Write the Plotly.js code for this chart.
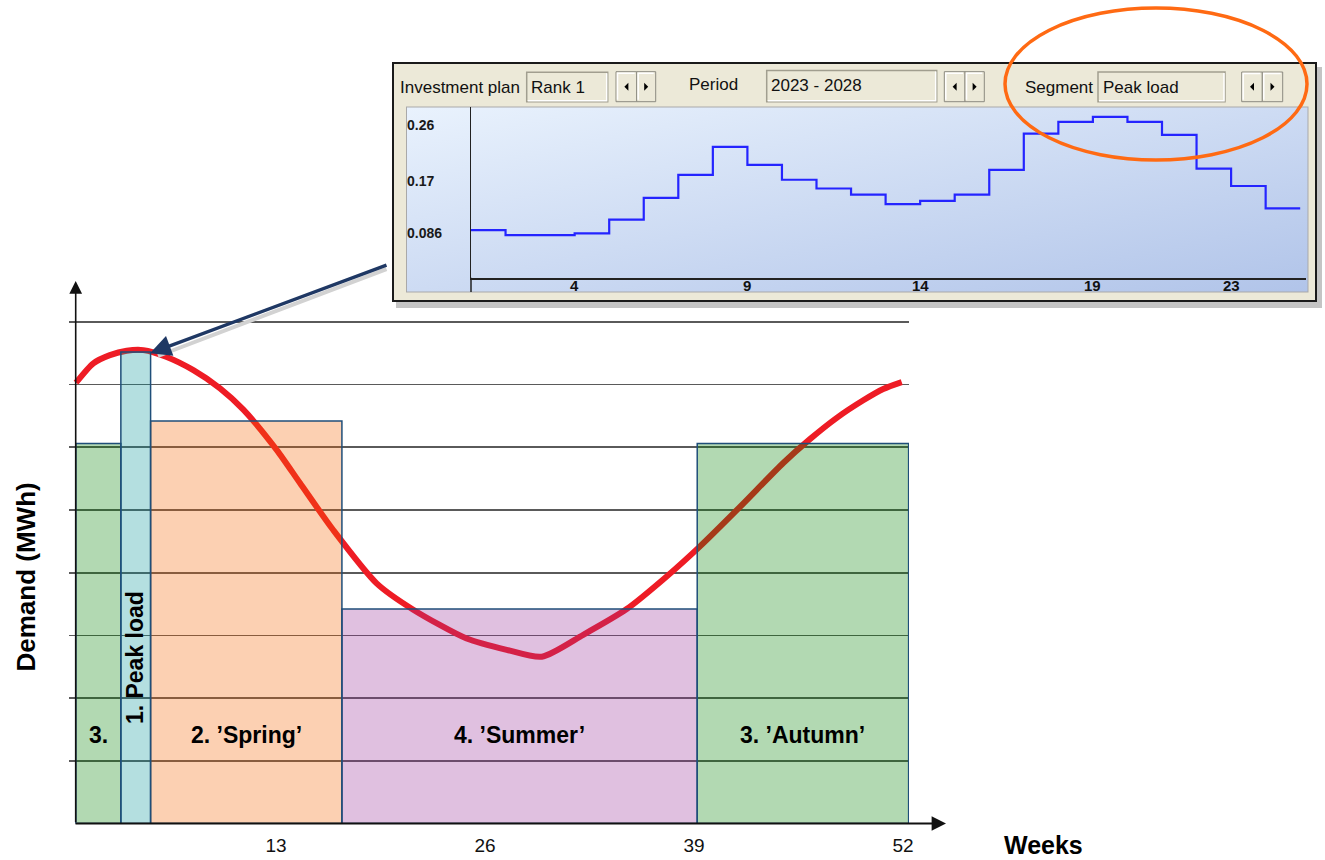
<!DOCTYPE html>
<html><head><meta charset="utf-8">
<script src="https://cdn.plot.ly/plotly-3.0.1.min.js"></script>
<style>html,body{margin:0;padding:0;background:#fff;}#chart{width:1325px;height:860px;}</style>
</head><body><div id="chart"></div>
<script>
// ---------------- main chart data ----------------
const segmentNames = ['3.', '1. Peak load', '2. ’Spring’', '4. ’Summer’', '3. ’Autumn’'];
const segmentStartWeek = [0.55, 3.35, 5.2, 17.1, 39.2];
const segmentEndWeek = [3.35, 5.2, 17.1, 39.2, 52.35];
const segmentDemand = [6.06, 7.52, 6.42, 3.42, 6.06];

const curveWeeks = [0.56, 1.64, 2.67, 3.71, 4.75, 6.20, 7.86, 9.52, 10.97, 13.04, 14.49, 16.56, 19.26, 21.54, 24.86, 27.35, 29.53, 32.11, 34.81, 37.30, 39.37, 41.86, 44.55, 46.21, 47.88, 49.53, 50.77, 51.92];
const curveDemand = [7.03, 7.34, 7.47, 7.54, 7.55, 7.44, 7.23, 6.94, 6.60, 5.96, 5.43, 4.68, 3.83, 3.41, 2.95, 2.77, 2.66, 3.01, 3.42, 3.94, 4.42, 5.05, 5.75, 6.13, 6.47, 6.75, 6.93, 7.04];

const weekTicks = [13, 26, 39, 52];

// ---------------- inset (software screenshot) data ----------------
const insetSteps = [1, 2, 3, 4, 5, 6, 7, 8, 9, 10, 11, 12, 13, 14, 15, 16, 17, 18, 19, 20, 21, 22, 23, 24];
const insetPeakLoad = [0.091, 0.083, 0.083, 0.086, 0.108, 0.143, 0.180, 0.225, 0.196, 0.172, 0.158, 0.148, 0.133, 0.138, 0.148, 0.188, 0.246, 0.265, 0.273, 0.265, 0.244, 0.190, 0.162, 0.126];
const insetXTicks = [4, 9, 14, 19, 23];
const insetYTicks = [0.086, 0.17, 0.26];
const insetYTickText = ['0.086', '0.17', '0.26'];

const controlLabels = ['Investment plan', 'Period', 'Segment'];
const controlValues = ['Rank 1', '2023 - 2028', 'Peak load'];

// ---------------- styling ----------------
const W = 1325, H = 860;
const PX = x => x / W;
const PY = y => 1 - y / H;
const FONT = 'Liberation Sans, Arial, sans-serif';
const segmentFill = ['rgba(0,128,0,0.3)', 'rgba(5,148,152,0.3)', 'rgba(245,98,0,0.3)', 'rgba(152,45,152,0.3)', 'rgba(0,128,0,0.3)'];

const traces = [];
// demand curve (drawn under the semi-transparent segment blocks)
traces.push({
  type: 'scatter', mode: 'lines', x: curveWeeks, y: curveDemand, xaxis: 'x', yaxis: 'y',
  line: {color: '#ee1c25', width: 6, shape: 'spline', smoothing: 0.7}, hoverinfo: 'skip'
});
// segment blocks
traces.push({
  type: 'bar', x: segmentStartWeek, y: segmentDemand,
  width: segmentStartWeek.map((s, i) => segmentEndWeek[i] - s), offset: 0,
  xaxis: 'x3', yaxis: 'y3',
  marker: {color: segmentFill, line: {color: '#1f4e79', width: 1.5}}, hoverinfo: 'skip'
});
// inset step line
traces.push({
  type: 'scatter', mode: 'lines',
  x: insetSteps.concat([insetSteps[insetSteps.length - 1] + 1]),
  y: insetPeakLoad.concat([insetPeakLoad[insetPeakLoad.length - 1]]),
  xaxis: 'x2', yaxis: 'y2', line: {color: '#2424ff', width: 2.2, shape: 'hv'}, hoverinfo: 'skip'
});

// main axes geometry (pixel -> data)
const wk = px => (px - 67) / 16.077;
const mainX = {domain: [PX(69), PX(909)], range: [wk(69), wk(909)]};
const mainY = {domain: [PY(823.5), PY(282)], range: [0, (823.5 - 282) / 62.7]};
const insetX = {domain: [PX(471), PX(1306)], range: [1, 1 + (1306 - 471) / 34.55]};
const iv = y => 0.26 - (y - 125) * 0.0016066;
const insetY = {domain: [PY(277.7), PY(107)], range: [iv(277.7), iv(107)]};

// panel background as inline SVG (decoration only)
const svg = "<svg xmlns='http://www.w3.org/2000/svg' width='934' height='250' viewBox='0 0 934 250'>" +
  "<defs><linearGradient id='g' x1='0' y1='0' x2='1' y2='1'><stop offset='0' stop-color='#e9f2fd'/><stop offset='1' stop-color='#b1c4e9'/></linearGradient></defs>" +
  "<rect x='4' y='5' width='926' height='241' fill='#c4c4c4'/>" +
  "<rect x='1' y='1' width='923' height='238' fill='#ece9d8' stroke='#1a1a1a' stroke-width='2'/>" +
  "<rect x='14.5' y='45' width='901.5' height='185' fill='url(#g)' stroke='#a9a9a9' stroke-width='1'/>" +
  "</svg>";

const shapes = [];
// inset y-axis extension below x-axis
shapes.push({type: 'line', xref: 'paper', yref: 'paper', x0: PX(471), x1: PX(471), y0: PY(277.7), y1: PY(292), line: {color: '#222', width: 1.5}});
// text boxes
const boxes = [[526.7, 72.3, 607.7, 101.7], [766.7, 70.5, 936.7, 101.7], [1098, 72, 1225, 101.7]];
boxes.forEach(b => {
  shapes.push({type: 'rect', xref: 'paper', yref: 'paper', x0: PX(b[0]), x1: PX(b[2]), y0: PY(b[3]), y1: PY(b[1]), fillcolor: '#ece9d8', line: {color: '#a19e8f', width: 1.5}, layer: 'below'});
  shapes.push({type: 'path', xref: 'paper', yref: 'paper', path: `M ${PX(b[0]+1)} ${PY(b[3]-1)} L ${PX(b[2]-1)} ${PY(b[3]-1)} L ${PX(b[2]-1)} ${PY(b[1]+1)}`, line: {color: '#ffffff', width: 1.5}, layer: 'below'});
});
// spinner buttons
const spinners = [[616, 71.7, 636.7, 655.7, 101.7], [944.3, 71.7, 965, 984.3, 101.7], [1241.7, 72, 1262.3, 1282.7, 101.7]];
spinners.forEach(s => {
  const cy = (s[1] + s[4]) / 2;
  [[s[0], s[2], -1], [s[2], s[3], 1]].forEach(bt => {
    shapes.push({type: 'rect', xref: 'paper', yref: 'paper', x0: PX(bt[0]), x1: PX(bt[1]), y0: PY(s[4]), y1: PY(s[1]), fillcolor: '#ece9d8', line: {color: '#8c8a80', width: 1}, layer: 'below'});
    shapes.push({type: 'path', xref: 'paper', yref: 'paper', path: `M ${PX(bt[0]+1.5)} ${PY(s[4]-2)} L ${PX(bt[0]+1.5)} ${PY(s[1]+1.5)} L ${PX(bt[1]-2)} ${PY(s[1]+1.5)}`, line: {color: '#ffffff', width: 1.5}, layer: 'below'});
    const cx = (bt[0] + bt[1]) / 2;
    const d = bt[2];
    shapes.push({type: 'path', xref: 'paper', yref: 'paper', path: `M ${PX(cx - 2 * d)} ${PY(cy - 4)} L ${PX(cx + 2 * d)} ${PY(cy)} L ${PX(cx - 2 * d)} ${PY(cy + 4)} Z`, fillcolor: '#000', line: {width: 0}, layer: 'below'});
  });
});
// orange highlight ellipse
shapes.push({type: 'circle', xref: 'paper', yref: 'paper', x0: PX(1005), x1: PX(1307), y0: PY(160), y1: PY(8), line: {color: '#ff6a13', width: 3.5}, layer: 'above'});

const annotations = [];
const base = {showarrow: false, xanchor: 'center', yanchor: 'middle'};
// segment labels
segmentNames.forEach((name, i) => {
  const cx = (segmentStartWeek[i] + segmentEndWeek[i]) / 2;
  const peak = i === 1;
  annotations.push(Object.assign({}, base, {
    xref: 'x', yref: 'y', x: cx, y: peak ? 2.65 : 1.41, text: '<b>' + name + '</b>',
    textangle: peak ? -90 : 0, font: {family: FONT, size: 23, color: '#000'}
  }));
});
// axis titles
annotations.push(Object.assign({}, base, {xref: 'paper', yref: 'paper', x: PX(25.5), y: PY(577), text: '<b>Demand (MWh)</b>', textangle: -90, font: {family: FONT, size: 26, color: '#000'}}));
annotations.push(Object.assign({}, base, {xref: 'paper', yref: 'paper', x: PX(1043), y: PY(845), text: '<b>Weeks</b>', font: {family: FONT, size: 25, color: '#000'}}));
// axis arrows
annotations.push({xref: 'paper', yref: 'paper', x: PX(75.7), y: PY(281), ax: 0, ay: 542.5, text: '', showarrow: true, arrowhead: 2, arrowsize: 1.6, arrowwidth: 1.6, arrowcolor: '#111'});
annotations.push({xref: 'paper', yref: 'paper', x: PX(946), y: PY(823.5), ax: -872, ay: 0, text: '', showarrow: true, arrowhead: 2, arrowsize: 1.6, arrowwidth: 1.8, arrowcolor: '#111'});
// pointer arrow (shadow + arrow)
annotations.push({xref: 'paper', yref: 'paper', x: PX(158), y: PY(356), ax: 230, ay: -87.5, text: '', showarrow: true, arrowhead: 0, arrowwidth: 4, arrowcolor: '#d2d2d2'});
annotations.push({xref: 'paper', yref: 'paper', x: PX(150), y: PY(353.3), ax: 238, ay: -88.8, text: '', showarrow: true, arrowhead: 2, arrowsize: 1.2, arrowwidth: 3.5, arrowcolor: '#1f3864'});
// inset tick labels
insetYTicks.forEach((v, i) => {
  annotations.push({xref: 'paper', yref: 'y2', x: PX(405), y: v, xanchor: 'left', yanchor: 'middle', text: '<b>' + insetYTickText[i] + '</b>', showarrow: false, font: {family: FONT, size: 14, color: '#1a1a1a'}});
});
insetXTicks.forEach(v => {
  annotations.push({xref: 'x2', yref: 'paper', x: v, y: PY(285.5), xanchor: 'center', yanchor: 'middle', text: '<b>' + v + '</b>', showarrow: false, font: {family: FONT, size: 15, color: '#111'}});
});
// control labels/values
const labelPos = [[397.7, 87], [686.7, 84.3], [1023, 87]];
const valuePos = [[529, 87], [769, 86], [1101, 87]];
controlLabels.forEach((t, i) => {
  annotations.push({xref: 'paper', yref: 'paper', x: PX(labelPos[i][0]), y: PY(labelPos[i][1]), xanchor: 'left', yanchor: 'middle', text: t, showarrow: false, font: {family: FONT, size: 17, color: '#111'}});
  annotations.push({xref: 'paper', yref: 'paper', x: PX(valuePos[i][0]), y: PY(valuePos[i][1]), xanchor: 'left', yanchor: 'middle', text: controlValues[i], showarrow: false, font: {family: FONT, size: 17, color: '#111'}});
});

const layout = {
  width: W, height: H, autosize: false, margin: {l: 0, r: 0, t: 0, b: 0},
  paper_bgcolor: '#ffffff', plot_bgcolor: 'rgba(0,0,0,0)', showlegend: false,
  xaxis: {domain: mainX.domain, range: mainX.range, showgrid: false, zeroline: false, showline: false,
    tickmode: 'array', tickvals: weekTicks, ticktext: weekTicks.map(String), ticks: '',
    tickfont: {family: FONT, size: 19, color: '#111'}, ticklabelstandoff: 8, fixedrange: true},
  yaxis: {domain: mainY.domain, range: mainY.range, tick0: 0, dtick: 1, showgrid: true, gridcolor: '#5a5a5a', gridwidth: 1.6,
    zeroline: false, showline: false, showticklabels: false, ticks: '', fixedrange: true},
  xaxis3: {overlaying: 'x', anchor: 'y3', range: mainX.range, visible: false, fixedrange: true},
  yaxis3: {overlaying: 'y', anchor: 'x3', range: mainY.range, visible: false, fixedrange: true},
  xaxis2: {domain: insetX.domain, range: insetX.range, anchor: 'y2', showgrid: false, zeroline: false,
    showline: true, linecolor: '#222', linewidth: 2, showticklabels: false, ticks: '', fixedrange: true},
  yaxis2: {domain: insetY.domain, range: insetY.range, anchor: 'x2', showgrid: false, zeroline: false,
    showline: true, linecolor: '#222', linewidth: 1.5, showticklabels: false, ticks: '', fixedrange: true},
  images: [{source: 'data:image/svg+xml;charset=utf-8,' + encodeURIComponent(svg), xref: 'paper', yref: 'paper',
    x: PX(392), y: PY(62), sizex: 934 / W, sizey: 250 / H, xanchor: 'left', yanchor: 'top', sizing: 'stretch', layer: 'below'}],
  shapes: shapes, annotations: annotations
};

Plotly.newPlot('chart', traces, layout, {displayModeBar: false, staticPlot: true});
</script>
</body></html>
